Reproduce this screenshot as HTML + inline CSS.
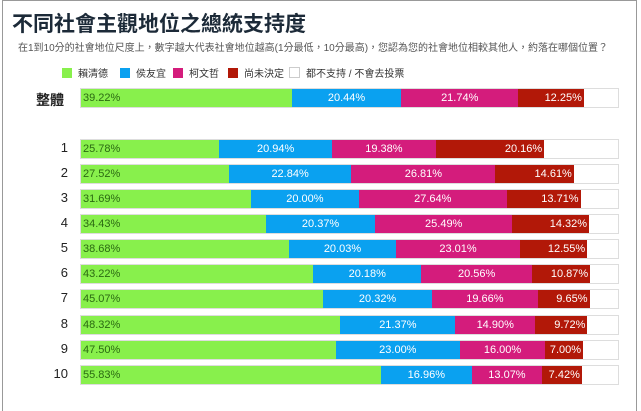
<!DOCTYPE html>
<html><head><meta charset="utf-8"><style>
body{margin:0;width:641px;height:406px;background:#fff;font-family:"Liberation Sans","Noto Sans CJK TC",sans-serif;position:relative;overflow:hidden}
.frame{position:absolute;left:2px;top:0;width:633px;height:410px;border:1px solid #999;border-bottom:none}
h1{position:absolute;left:12px;top:8px;margin:0;font-size:21px;font-weight:bold;color:#1c2a38;font-family:"Noto Sans CJK TC",sans-serif}
.sub{position:absolute;left:18px;top:39px;font-size:10px;color:#555}
.leg{position:absolute;top:65px;font-size:10px;color:#333;display:flex;align-items:center}
.leg i{display:inline-block;width:10px;height:10px;margin-right:6px}
.row{position:absolute;left:80px;width:539px;height:20px;display:flex;border:1px solid #ddd;box-sizing:border-box;font-size:11px}
.row div{height:100%;line-height:19px;color:#fff;text-align:center;overflow:hidden;white-space:nowrap}
.row .g{background:#88f04c;color:#2b6a12;text-align:left;padding-left:2px;box-sizing:border-box}
.row .b{background:#0aa1f0}
.row .p{background:#d41c7c}
.row .r{background:#b21808;text-align:right;padding-right:2px;box-sizing:border-box}
.lab{position:absolute;left:40px;width:28px;text-align:right;font-size:13px;color:#222}
</style></head><body>
<div class="frame"></div>
<h1>不同社會主觀地位之總統支持度</h1>
<div class="sub">在1到10分的社會地位尺度上，數字越大代表社會地位越高(1分最低，10分最高)，您認為您的社會地位相較其他人，約落在哪個位置？</div>
<div class="leg" style="left:62px"><i style="background:#88f04c"></i>賴清德</div>
<div class="leg" style="left:120px"><i style="background:#0aa1f0"></i>侯友宜</div>
<div class="leg" style="left:173px"><i style="background:#d41c7c"></i>柯文哲</div>
<div class="leg" style="left:228px"><i style="background:#b21808"></i>尚未決定</div>
<div class="leg" style="left:289px"><i style="background:#fff;border:1px solid #ccc;width:9px;height:9px"></i>都不支持 / 不會去投票</div>

<div class="lab" style="top:90px;font-weight:bold;font-size:14px;left:36px">整體</div>
<div class="row" style="top:88px"><div class="g" style="width:39.22%">39.22%</div><div class="b" style="width:20.44%">20.44%</div><div class="p" style="width:21.74%">21.74%</div><div class="r" style="width:12.25%">12.25%</div></div>

<div class="lab" style="top:140px">1</div>
<div class="row" style="top:139px"><div class="g" style="width:25.78%">25.78%</div><div class="b" style="width:20.94%">20.94%</div><div class="p" style="width:19.38%">19.38%</div><div class="r" style="width:20.16%">20.16%</div></div>
<div class="lab" style="top:165px">2</div>
<div class="row" style="top:164px"><div class="g" style="width:27.52%">27.52%</div><div class="b" style="width:22.84%">22.84%</div><div class="p" style="width:26.81%">26.81%</div><div class="r" style="width:14.61%">14.61%</div></div>
<div class="lab" style="top:190px">3</div>
<div class="row" style="top:189px"><div class="g" style="width:31.69%">31.69%</div><div class="b" style="width:20.00%">20.00%</div><div class="p" style="width:27.64%">27.64%</div><div class="r" style="width:13.71%">13.71%</div></div>
<div class="lab" style="top:215px">4</div>
<div class="row" style="top:214px"><div class="g" style="width:34.43%">34.43%</div><div class="b" style="width:20.37%">20.37%</div><div class="p" style="width:25.49%">25.49%</div><div class="r" style="width:14.32%">14.32%</div></div>
<div class="lab" style="top:240px">5</div>
<div class="row" style="top:239px"><div class="g" style="width:38.68%">38.68%</div><div class="b" style="width:20.03%">20.03%</div><div class="p" style="width:23.01%">23.01%</div><div class="r" style="width:12.55%">12.55%</div></div>
<div class="lab" style="top:265px">6</div>
<div class="row" style="top:264px"><div class="g" style="width:43.22%">43.22%</div><div class="b" style="width:20.18%">20.18%</div><div class="p" style="width:20.56%">20.56%</div><div class="r" style="width:10.87%">10.87%</div></div>
<div class="lab" style="top:290px">7</div>
<div class="row" style="top:289px"><div class="g" style="width:45.07%">45.07%</div><div class="b" style="width:20.32%">20.32%</div><div class="p" style="width:19.66%">19.66%</div><div class="r" style="width:9.65%">9.65%</div></div>
<div class="lab" style="top:316px">8</div>
<div class="row" style="top:315px"><div class="g" style="width:48.32%">48.32%</div><div class="b" style="width:21.37%">21.37%</div><div class="p" style="width:14.90%">14.90%</div><div class="r" style="width:9.72%">9.72%</div></div>
<div class="lab" style="top:341px">9</div>
<div class="row" style="top:340px"><div class="g" style="width:47.50%">47.50%</div><div class="b" style="width:23.00%">23.00%</div><div class="p" style="width:16.00%">16.00%</div><div class="r" style="width:7.00%">7.00%</div></div>
<div class="lab" style="top:366px">10</div>
<div class="row" style="top:365px"><div class="g" style="width:55.83%">55.83%</div><div class="b" style="width:16.96%">16.96%</div><div class="p" style="width:13.07%">13.07%</div><div class="r" style="width:7.42%">7.42%</div></div>
</body></html>
